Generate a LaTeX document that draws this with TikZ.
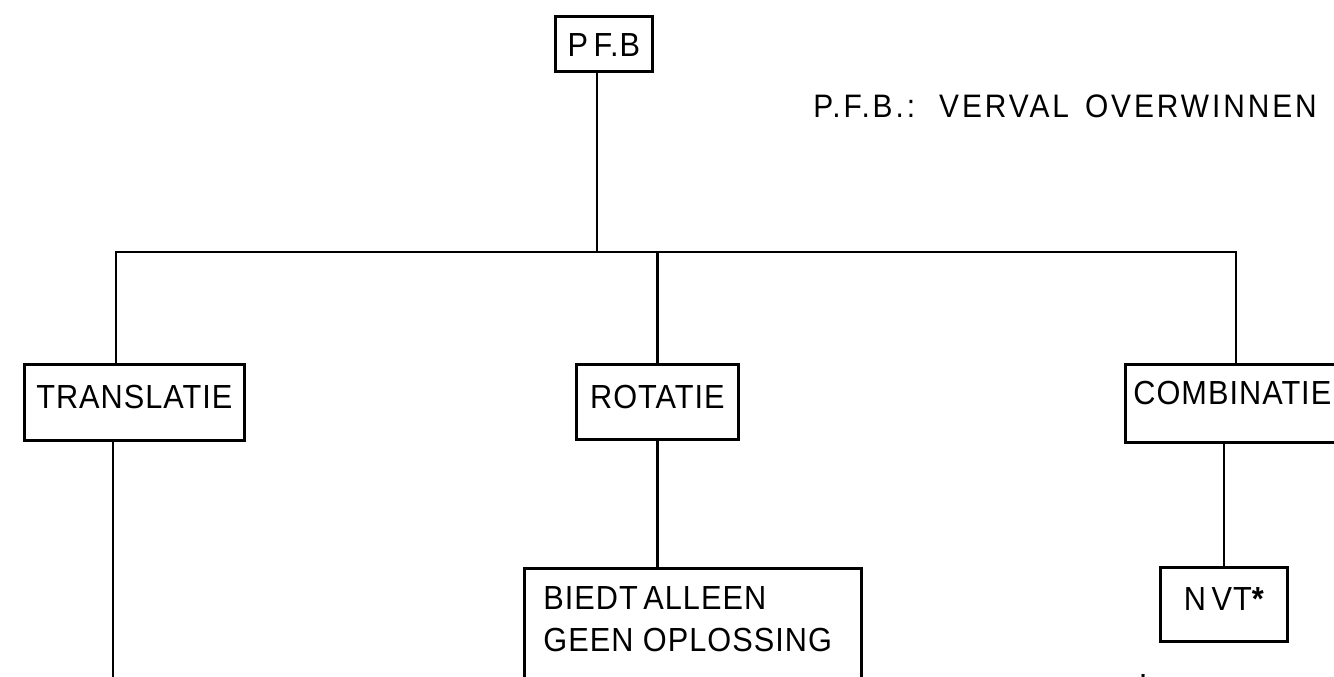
\documentclass[tikz,border=0pt]{standalone}
\usepackage{fontspec}
\setmainfont{Liberation Sans}[FakeStretch=0.92,LetterSpace=3]
\usepackage{tikz}
\usetikzlibrary{positioning,calc}
\newcommand{\lettering}{\fontsize{19}{23.8}\selectfont}
\tikzset{box/.style={draw,line width=1.6pt,inner ysep=0pt,inner xsep=4pt,font=\lettering,anchor=north west}, link/.style={line width=1.5pt}}

\begin{document}
\begin{tikzpicture}[x=0.02cm,y=-0.02cm]
\useasboundingbox (0,0) rectangle (1334,676);
\clip (0,0) rectangle (1334,676);
\node[box,minimum width=1.94cm,text height=0.8cm,text depth=0.3cm] (pfb) at (554,15) {P\,F.B};
\node[font=\fontsize{18.5}{22}\selectfont\addfontfeature{LetterSpace=9},anchor=base west,inner sep=0pt] (title) at (813,117) {P.F.B.:\hspace{0.48cm}VERVAL\hspace{0.32cm}OVERWINNEN};
\node[box,minimum width=4.4cm,text height=0.88cm,text depth=0.64cm] (trans) at (23,363) {TRANSLATIE};
\node[box,minimum width=3.24cm,text height=0.88cm,text depth=0.62cm] (rot) at (575,363) {ROTATIE};
\node[box,inner xsep=0.16cm,text height=0.8cm,text depth=0.76cm] (comb) at (1124,363) {COMBINATIE};
\node[box,minimum width=2.54cm,text height=0.86cm,text depth=0.62cm] (nvt) at (1159,566) {N\,VT{\bfseries *}};
\node[box,inner xsep=0.38cm,text height=0.82cm,text depth=3cm] (biedt) at (523,567) {\parbox[t]{5.98cm}{\lineskip=0pt\baselineskip=0.84cm BIEDT\,ALLEEN\\GEEN OPLOSSING}};
\node[font=\lettering\bfseries,anchor=base,inner sep=0pt] (foot) at (1143,697) {*};
% verdeellijn
\coordinate (jt) at (116,252);
\coordinate (jc) at (1236,252);
\coordinate (tend) at (113,690);
\draw[link] (jt |- trans.north) -- (jt) -- (jc) -- (jc |- comb.north);
\draw[link] ([xshift=-0.14cm]pfb.south) -- ([xshift=-0.14cm]pfb.south |- jt);
\draw[link] (rot.north) -- (rot.north |- jt);
\draw[link] (tend |- trans.south) -- (tend);
\draw[link] (rot.south) -- (rot.south |- biedt.north);
\draw[link] (nvt.north |- comb.south) -- (nvt.north);
\end{tikzpicture}
\end{document}
